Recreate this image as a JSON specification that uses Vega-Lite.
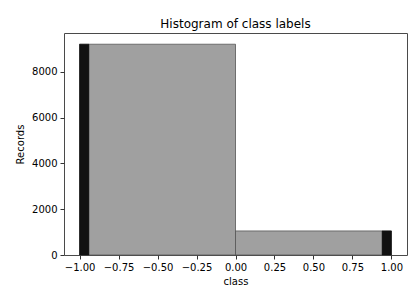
{
  "$schema": "https://vega.github.io/schema/vega-lite/v6.json",
  "width": 343,
  "height": 222,
  "autosize": {"type": "none"},
  "padding": {"left": 64, "top": 33, "right": 5, "bottom": 36},
  "background": "white",
  "title": {"text": "Histogram of class labels", "font": "DejaVu Sans", "fontSize": 12, "fontWeight": "normal", "color": "#000", "offset": 2},
  "config": {
    "view": {"stroke": "#4a4a4a", "strokeWidth": 1},
    "axis": {"labelFont": "DejaVu Sans", "titleFont": "DejaVu Sans", "labelFontSize": 10, "titleFontSize": 10, "titleFontWeight": "normal", "labelColor": "#000", "titleColor": "#000", "grid": false, "domain": false, "tickColor": "#333", "tickSize": 4}
  },
  "data": {"values": [
    {"series": "gray", "x0": -1, "x1": 0, "count": 9200},
    {"series": "gray", "x0": 0, "x1": 1, "count": 1050},
    {"series": "black", "x0": -1, "x1": -0.94, "count": 9200},
    {"series": "black", "x0": 0.94, "x1": 1, "count": 1050}
  ]},
  "layer": [
    {
      "transform": [{"filter": "datum.series == 'gray'"}],
      "mark": {"type": "rect", "fill": "#a0a0a0", "stroke": "#555", "strokeWidth": 0.8},
      "encoding": {
        "x": {"field": "x0", "type": "quantitative", "scale": {"domain": [-1.1, 1.1], "nice": false, "zero": false}, "axis": {"values": [-1, -0.75, -0.5, -0.25, 0, 0.25, 0.5, 0.75, 1], "format": ".2f", "title": "class", "labelPadding": 3, "titlePadding": 4}},
        "x2": {"field": "x1"},
        "y": {"field": "count", "type": "quantitative", "scale": {"domain": [0, 9690], "nice": false}, "axis": {"values": [0, 2000, 4000, 6000, 8000], "format": "d", "title": "Records", "labelPadding": 3, "titlePadding": 6}},
        "y2": {"datum": 0}
      }
    },
    {
      "transform": [{"filter": "datum.series == 'black'"}],
      "mark": {"type": "rect", "fill": "#111111", "stroke": "#111111", "strokeWidth": 0.5},
      "encoding": {
        "x": {"field": "x0", "type": "quantitative"},
        "x2": {"field": "x1"},
        "y": {"field": "count", "type": "quantitative"},
        "y2": {"datum": 0}
      }
    }
  ]
}
